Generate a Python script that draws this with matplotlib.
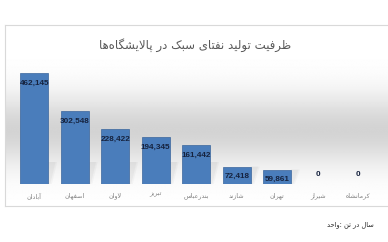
"""
Light naphtha production capacity per refinery - bar chart rebuild.
Arabic/Persian text is shaped by hand into presentation forms because
matplotlib does no contextual shaping or bidi.
"""

import numpy as np
import matplotlib.pyplot as plt
from matplotlib import transforms
from matplotlib.patches import Polygon


# ──────────────────────────────────────────────────────────────
# DATA
# ──────────────────────────────────────────────────────────────
REFINERIES = ["آبادان", "اصفهان", "لاوان", "تبریز", "بندرعباس",
              "شازند", "تهران", "شیراز", "کرمانشاه"]
CAPACITY   = [462145, 302548, 228422, 194345, 161442, 72418, 59861, 0, 0]
TITLE      = "ظرفیت تولید نفتای سبک در پالایشگاه‌ها"
UNIT_WORDS = ["واحد", "تن", "در", "سال"]   # shown left-to-right as in the source

BAR_COLOR   = "#4a7dbb"
BAR_EDGE    = "#3a659c"
LABEL_COLOR = "#16233f"
ARABIC_FONT = ["DejaVu Sans"]


# presentation forms: (isolated, final, initial, medial) or (isolated, final)
FORMS = {
    "ا": (0xFE8D, 0xFE8E), "آ": (0xFE81, 0xFE82),
    "د": (0xFEA9, 0xFEAA), "ر": (0xFEAD, 0xFEAE),
    "ز": (0xFEAF, 0xFEB0), "و": (0xFEED, 0xFEEE),
    "ب": (0xFE8F, 0xFE90, 0xFE91, 0xFE92), "ت": (0xFE95, 0xFE96, 0xFE97, 0xFE98),
    "ح": (0xFEA1, 0xFEA2, 0xFEA3, 0xFEA4), "س": (0xFEB1, 0xFEB2, 0xFEB3, 0xFEB4),
    "ش": (0xFEB5, 0xFEB6, 0xFEB7, 0xFEB8), "ص": (0xFEB9, 0xFEBA, 0xFEBB, 0xFEBC),
    "ظ": (0xFEC5, 0xFEC6, 0xFEC7, 0xFEC8), "ع": (0xFEC9, 0xFECA, 0xFECB, 0xFECC),
    "ف": (0xFED1, 0xFED2, 0xFED3, 0xFED4), "ل": (0xFEDD, 0xFEDE, 0xFEDF, 0xFEE0),
    "م": (0xFEE1, 0xFEE2, 0xFEE3, 0xFEE4), "ن": (0xFEE5, 0xFEE6, 0xFEE7, 0xFEE8),
    "ه": (0xFEE9, 0xFEEA, 0xFEEB, 0xFEEC), "پ": (0xFB56, 0xFB57, 0xFB58, 0xFB59),
    "ک": (0xFB8E, 0xFB8F, 0xFB90, 0xFB91), "گ": (0xFB92, 0xFB93, 0xFB94, 0xFB95),
    "ی": (0xFBFC, 0xFBFD, 0xFBFE, 0xFBFF),
}
LAM_ALEF = {"ا": (0xFEFB, 0xFEFC), "آ": (0xFEF5, 0xFEF6)}


def shape(text: str) -> str:
    """Join letters into contextual forms and return them in visual (LTR) order."""
    out = []
    i = 0
    while i < len(text):
        c = text[i]
        prev = text[i - 1] if i > 0 else None
        nxt = text[i + 1] if i + 1 < len(text) else None
        joins_prev = prev in FORMS and len(FORMS[prev]) == 4
        if c == "ل" and nxt in LAM_ALEF:
            out.append(chr(LAM_ALEF[nxt][1 if joins_prev else 0]))
            i += 2
            continue
        if c not in FORMS:
            if c != "\u200c":
                out.append(c)
            i += 1
            continue
        f = FORMS[c]
        joins_next = len(f) == 4 and nxt in FORMS
        if joins_prev and joins_next:
            out.append(chr(f[3]))
        elif joins_prev:
            out.append(chr(f[1]))
        elif joins_next:
            out.append(chr(f[2]))
        else:
            out.append(chr(f[0]))
        i += 1
    return "".join(reversed(out))


def px(x, y):
    """Pixel position (top-left origin) to figure fraction."""
    return x / 388, 1 - y / 242


def main() -> None:
    fig = plt.figure(figsize=(3.88, 2.42), dpi=100)
    fig.patch.set_facecolor("white")

    # chart panel with the grey band gradient
    x0, y0 = px(5, 206)
    bg = fig.add_axes([x0, y0, 1.0, (206 - 25) / 242])
    t = np.linspace(0, 1, 256)
    shade = 1 - 0.17 * np.exp(-((t - 0.58) / 0.2) ** 2)
    shade = np.clip(shade, 0, 1)
    grad = np.repeat(shade[:, None], 2, axis=1)
    bg.imshow(grad, cmap="gray", vmin=0, vmax=1, aspect="auto",
              extent=[0, 1, 0, 1], interpolation="bilinear")
    bg.set_xticks([])
    bg.set_yticks([])
    for s in bg.spines.values():
        s.set_color("#d9d9d9")
        s.set_linewidth(0.8)

    # bars
    ax_left, ax_bot = px(14, 184)
    _, ax_top = px(0, 62)
    ax = fig.add_axes([ax_left, ax_bot, 364.5 / 388, ax_top - ax_bot])
    ax.patch.set_alpha(0)
    per_px = 462145 / 111
    ax.set_ylim(0, 122 * per_px)
    ax.set_xlim(-0.5, len(REFINERIES) - 0.5)

    xs = np.arange(len(REFINERIES))
    vals = np.array(CAPACITY)
    width = 0.69

    # faint slanted shadow to the right of each bar
    for x, v in zip(xs, vals):
        if v <= 0:
            continue
        xr = x + width / 2
        hs = min(v, 22 * per_px)
        for k, a in enumerate([0.035, 0.045]):
            grow = 0.04 * (1 - k)
            pts = [(xr, 0), (xr + 0.05 + grow, 0),
                   (xr + 0.18 + grow, hs), (xr, hs)]
            ax.add_patch(Polygon(pts, closed=True, facecolor="#404040",
                                 alpha=a, linewidth=0, zorder=1))

    ax.bar(xs, vals, width=width, color=BAR_COLOR, edgecolor=BAR_EDGE,
           linewidth=0.5, zorder=2)

    offset_down = transforms.offset_copy(ax.transData, fig=fig, y=-10 * 0.72, units="points")
    offset_up = transforms.offset_copy(ax.transData, fig=fig, y=9 * 0.72, units="points")
    for x, v in zip(xs, vals):
        tr = offset_down if v > 0 else offset_up
        ax.text(x, v, f"{v:,}", transform=tr, ha="center", va="center",
                fontsize=5.9, fontweight="bold", color=LABEL_COLOR,
                family=["Liberation Sans", "DejaVu Sans"], zorder=3)

    ax.set_xticks(xs)
    ax.set_xticklabels([shape(r) for r in REFINERIES], fontsize=4.6,
                       color="#7f7f7f", family=ARABIC_FONT)
    ax.tick_params(axis="x", length=0, pad=6)
    ax.set_yticks([])
    for s in ax.spines.values():
        s.set_visible(False)

    # title and unit note
    tx, ty = px(195, 45)
    fig.text(tx, ty, shape(TITLE), ha="center", va="center", fontsize=8.5,
             color="#595959", family=ARABIC_FONT)
    ux, uy = px(374, 225)
    words = [shape(w) for w in UNIT_WORDS]
    unit = words[0] + ": " + " ".join(words[1:])
    fig.text(ux, uy, unit, ha="right", va="center", fontsize=4.8,
             color="#262626", family=ARABIC_FONT)

    fig.savefig("out.png", dpi=100)


if __name__ == "__main__":
    main()
